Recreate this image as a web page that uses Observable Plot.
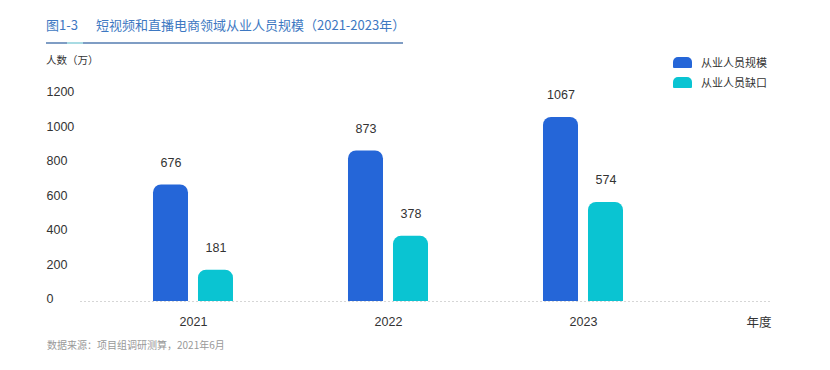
<!DOCTYPE html>
<html><head><meta charset="utf-8">
<script src="https://cdn.jsdelivr.net/npm/d3@7"></script>
<script src="https://cdn.jsdelivr.net/npm/@observablehq/plot@0.6"></script>
<style>
body{margin:0;background:#fff;}
#wrap{position:relative;width:830px;height:370px;overflow:hidden;font-family:"Noto Sans CJK SC",sans-serif;color:#333;}
#wrap svg{position:absolute;left:0;top:0;}
.abs{position:absolute;white-space:nowrap;line-height:1;}
#t1{left:46px;top:18px;font-size:13px;color:#3d78c2;}
#t2{left:96px;top:18px;font-size:13px;color:#3d78c2;}
#ul{left:46px;top:42px;width:357px;height:2px;background:#7f9dc4;}
#ul2{left:67px;top:42px;width:16px;height:2px;background:#a8dbe3;}
#unit{left:46px;top:55px;font-size:10.5px;color:#333;}
.lg{position:absolute;left:673px;font-size:11px;color:#333;display:flex;align-items:center;}
.sw{width:19px;height:11px;border-radius:5px 5px 1px 1px;margin-right:9px;}
#cap{left:47px;top:340px;font-size:10px;color:#999;}
</style></head><body>
<div id="wrap">
  <div id="t1" class="abs">图1-3</div>
  <div id="t2" class="abs">短视频和直播电商领域从业人员规模（2021-2023年）</div>
  <div id="ul" class="abs"></div>
  <div id="ul2" class="abs"></div>
  <div id="unit" class="abs">人数（万）</div>
  <div id="legend"></div>
  <div id="cap" class="abs">数据来源：项目组调研测算，2021年6月</div>
</div>
<script>
const years = ["2021", "2022", "2023"];
const seriesNames = ["从业人员规模", "从业人员缺口"];
const workforce = [676, 873, 1067];
const shortage = [181, 378, 574];
const yTicks = [0, 200, 400, 600, 800, 1000, 1200];
const xTitle = "年度";
const colors = ["#2566d8", "#0ac4d2"];

const blueData = years.map((y, i) => ({year: y, series: seriesNames[0], value: workforce[i]}));
const cyanData = years.map((y, i) => ({year: y, series: seriesNames[1], value: shortage[i]}));

const wrap = document.getElementById("wrap");
const legend = document.getElementById("legend");
seriesNames.forEach((name, i) => {
  const row = document.createElement("div");
  row.className = "lg";
  row.style.top = (54 + i * 20) + "px";
  row.innerHTML = `<div class="sw" style="background:${colors[i]}"></div><span>${name}</span>`;
  legend.appendChild(row);
});

const numFont = '"Liberation Sans", "Noto Sans CJK SC", sans-serif';
const chart = Plot.plot({
  width: 830,
  height: 370,
  marginLeft: 80,
  marginRight: 60,
  marginTop: 94,
  marginBottom: 69,
  style: {fontFamily: numFont, fontSize: "12.5px", color: "#333", background: "transparent"},
  x: {domain: years, paddingInner: 115 / 195, paddingOuter: 0.5641, align: 0.3318, round: false},
  y: {domain: [0, 1200]},
  marks: [
    Plot.ruleY([0], {stroke: "#d6d6d6", strokeDasharray: "2,2"}),
    Plot.barY(blueData, {x: "year", y: "value", fill: colors[0], insetRight: 45, ry1: 8}),
    Plot.barY(cyanData, {x: "year", y: "value", fill: colors[1], insetLeft: 45, ry1: 8}),
    Plot.text(blueData, {x: "year", y: "value", text: d => String(d.value), dx: -22.5, dy: -22, fontSize: 12.5, fill: "#333"}),
    Plot.text(cyanData, {x: "year", y: "value", text: d => String(d.value), dx: 22.5, dy: -22, fontSize: 12.5, fill: "#333"}),
    Plot.axisX({tickSize: 0, tickPadding: 16, fontSize: 12.5, label: null, fill: "#333"}),
    Plot.text([xTitle], {frameAnchor: "bottom-right", textAnchor: "end", lineAnchor: "middle", dx: 1, dy: 21, fontSize: 12.5, fontFamily: '"Noto Sans CJK SC", sans-serif', fill: "#333"}),
    Plot.axisY({ticks: yTicks, tickFormat: d => String(d), tickSize: 0, tickPadding: 0, textAnchor: "start", dx: -34, dy: -2.5, label: null, fill: "#333"})
  ]
});
wrap.insertBefore(chart, wrap.firstChild);
</script>
</body></html>
